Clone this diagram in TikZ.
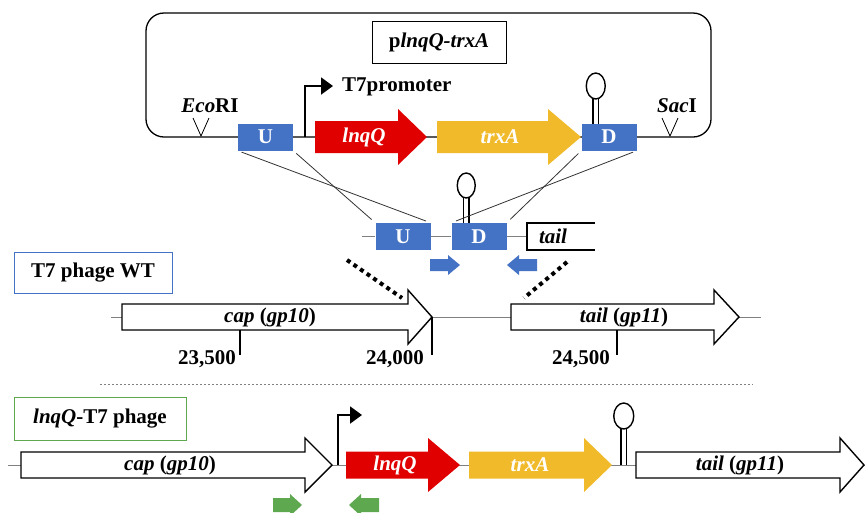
\documentclass[tikz,border=0pt]{standalone}
\usepackage{fontspec}
\setmainfont{Liberation Serif}
\usetikzlibrary{arrows.meta}
\definecolor{gblue}{HTML}{4472C4}
\definecolor{gred}{HTML}{E00000}
\definecolor{gyel}{HTML}{F0BA2A}
\definecolor{ggreen}{HTML}{5EA84F}
\definecolor{gline}{HTML}{808080}
\newcommand{\garrow}[7]{%
 \path[#7] (#1,{#4-#5}) -- (#3,{#4-#5}) -- (#3,{#4-#6}) -- (#2,#4) -- (#3,{#4+#6}) -- (#3,{#4+#5}) -- (#1,{#4+#5}) -- cycle;}
\begin{document}
\begin{tikzpicture}[x=1pt,y=-1pt,
 lbl/.style={font=\bfseries\fontsize{21}{24}\selectfont, inner sep=0pt},
 wlbl/.style={lbl, text=white},
 ubox/.style={fill=gblue, minimum width=55pt, minimum height=27pt, inner sep=0pt, text=white, font=\bfseries\fontsize{21}{24}\selectfont},
 hollow/.style={fill=white, draw=black, line width=1.4pt},
 redg/.style={fill=gred},
 yelg/.style={fill=gyel},
 dna/.style={draw=gline, line width=1pt},
 stem/.style={line width=1.4pt},
 loopc/.style={line width=1.4pt, fill=white},
 prom/.style={line width=2pt, -{Triangle[length=12pt,width=17pt]}},
 xline/.style={line width=0.8pt, black!80, shorten <=4pt, shorten >=5pt},
 dotl/.style={line width=4pt, dash pattern=on 4pt off 4pt},
 tick/.style={line width=1.5pt},
]
\useasboundingbox (0,0) rectangle (865,512);

% ---------- plasmid ----------
\draw[line width=1.3pt, rounded corners=18pt] (146,13) rectangle (711,137);
\node[draw, line width=1pt, minimum width=134pt, minimum height=42pt, lbl] (title) at (439,42) {p\textit{lnqQ-trxA}};
\node[lbl] (eco) at (210,106) {\textit{Eco}RI};
\draw[line width=0.8pt] (193,118) -- (201,136) -- (209,118);
\node[lbl] (sac) at (677,106) {\textit{Sac}I};
\draw[line width=0.8pt] (662,118) -- (670,136) -- (678,118);
\node[ubox] (U1) at (265.5,137) {U};
\node[ubox] (D1) at (609,137) {D};
\garrow{315}{427}{398}{137}{16}{28}{redg}
\node[wlbl] (lnqA) at (364,137) {\textit{lnqQ}};
\garrow{437}{581}{548}{137}{16}{28}{yelg}
\node[wlbl] (trxAa) at (500,137) {\textit{trxA}};
\draw[prom] (305,137) |- (333,86);
\node[lbl, anchor=west] (t7p) at (342,87) {T7promoter};
\draw[stem] (593,123.5) -- (593,98) (598.5,123.5) -- (598.5,98);
\draw[loopc] (595.75,86) ellipse [x radius=9.5pt, y radius=13pt];

% ---------- middle construct ----------
\node[ubox] (U2) at (403,236.5) {U};
\node[ubox] (D2) at (479,236.5) {D};
\draw[dna] (362,236.5) -- (U2.west) (U2.east) -- (D2.west) (D2.east) -- (527,236.5);
\draw[line width=1.5pt] (595,223) -| (527,250) -- (595,250);
\node[lbl] (tailm) at (553,236.5) {\textit{tail}};
\draw[stem] (463.5,222.5) -- (463.5,197) (469,222.5) -- (469,197);
\draw[loopc] (466.25,185.5) ellipse [x radius=9pt, y radius=12.5pt];
\garrow{430}{460}{448}{265}{6}{10}{fill=gblue}
\garrow{537}{507}{519}{265}{6}{10}{fill=gblue}

\draw[xline] (U1.south west) -- (U2.north east);
\draw[xline] (U1.south east) -- (U2.north west);
\draw[xline] (D1.south west) -- (D2.north east);
\draw[xline] (D1.south east) -- (D2.north west);

\draw[dotl] (347,260) -- (402,298);
\draw[dotl] (567,262) -- (524,298);

% ---------- T7 phage WT ----------
\node[draw=gblue, line width=1pt, minimum width=158pt, minimum height=41pt, lbl] (wt) at (93,272.5) {T7 phage WT};
\draw[dna] (111,317) -- (761,317);
\garrow{122}{432}{408}{317}{13}{27}{hollow}
\node[lbl] (capw) at (270,317) {\textit{cap} (\textit{gp10})};
\garrow{511}{739}{714}{317}{13}{27}{hollow}
\node[lbl] (tailw) at (624,317) {\textit{tail} (\textit{gp11})};
\draw[tick] (240,330) -- (240,355);
\draw[tick] (432,317) -- (432,355);
\draw[tick] (617,330) -- (617,355);
\node[lbl, anchor=east] (n1) at (236,359) {23,500};
\node[lbl, anchor=east] (n2) at (424,359) {24,000};
\node[lbl, anchor=east] (n3) at (610,359) {24,500};

\draw[gline, dash pattern=on 2pt off 2pt, line width=0.8pt] (100,384) -- (753,384);

% ---------- lnqQ-T7 phage ----------
\node[draw=ggreen, line width=1pt, minimum width=172pt, minimum height=43pt, lbl] (lt7) at (100,418.5) {\textit{lnqQ}-T7 phage};
\draw[dna] (8,465) -- (865,465);
\garrow{21}{332}{305}{465}{13}{27}{hollow}
\node[lbl] (capb) at (170,465) {\textit{cap} (\textit{gp10})};
\draw[prom] (338,465) |- (362,415);
\garrow{346}{460}{428}{465}{13.5}{27}{redg}
\node[wlbl] (lnqB) at (395,465) {\textit{lnqQ}};
\garrow{469}{612}{584}{465}{13.5}{27}{yelg}
\node[wlbl] (trxAb) at (530,465) {\textit{trxA}};
\draw[stem] (621,465) -- (621,428) (626.5,465) -- (626.5,428);
\draw[loopc] (623.75,416) ellipse [x radius=10pt, y radius=13pt];
\garrow{636}{864}{840}{465}{13}{27}{hollow}
\node[lbl] (tailb) at (740,465) {\textit{tail} (\textit{gp11})};
\garrow{273}{302}{290}{505}{7}{11}{fill=ggreen}
\garrow{379}{349}{361}{505}{7}{11}{fill=ggreen}
\end{tikzpicture}
\end{document}
